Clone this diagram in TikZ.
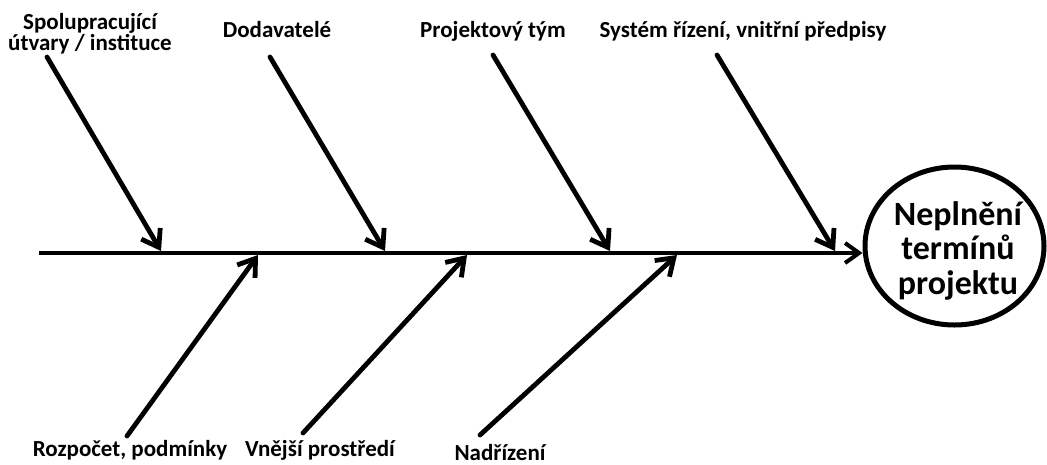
\documentclass[tikz,border=0pt]{standalone}
\usepackage{fontspec}
\setmainfont{Carlito}
\usetikzlibrary{arrows.meta,shapes.geometric}

\begin{document}
\begin{tikzpicture}[x=1pt,y=-1pt,
  bone/.style={line width=4.8pt, line cap=round, line join=round,
    -{Straight Barb[length=16pt,width=22pt]}},
  spine/.style={line width=4pt, line cap=butt, line join=round,
    -{Straight Barb[length=14pt,width=20pt]}},
  cause/.style={font=\bfseries\fontsize{23}{21}\selectfont, anchor=base,
    align=center, inner sep=0pt},
  effect/.style={draw, ellipse, line width=5pt, minimum width=179pt,
    minimum height=158pt, inner sep=0pt},
  efftext/.style={font=\bfseries\fontsize{34}{34.5}\selectfont,
    align=center, anchor=base, inner sep=0pt}]

\useasboundingbox (0,0) rectangle (1047,464);

% effect
\node[effect] (eff) at (954.5,246) {};
\node[efftext] (efftext) at (958,294) {Neplnění\\termínů\\projektu};

% main spine
\coordinate (tail) at (39,253);
\draw[spine] (tail) -- (tail -| eff.west);

% causes above the spine
\node[cause] (c1) at (90,50) {Spolupracující\\útvary / instituce};
\node[cause] (c2) at (277,37) {Dodavatelé};
\node[cause] (c3) at (493,37) {Projektový tým};
\node[cause] (c4) at (743,37) {Systém řízení, vnitřní předpisy};

\coordinate (s1) at (47,57);   \coordinate (e1) at (161,251);
\coordinate (s2) at (270,57);  \coordinate (e2) at (385,251);
\coordinate (s3) at (493,55);  \coordinate (e3) at (610,251);
\coordinate (s4) at (717,55);  \coordinate (e4) at (835,251);

\draw[bone] (s1) -- (e1);
\draw[bone] (s2) -- (e2);
\draw[bone] (s3) -- (e3);
\draw[bone] (s4) -- (e4);

% causes below the spine
\node[cause] (c5) at (130,456) {Rozpočet, podmínky};
\node[cause] (c6) at (320,456) {Vnější prostředí};
\node[cause] (c7) at (500,460) {Nadřízení};

\coordinate (s5) at (127,436); \coordinate (e5) at (258,255);
\coordinate (s6) at (303,433); \coordinate (e6) at (467,255);
\coordinate (s7) at (480,435); \coordinate (e7) at (677,255);

\draw[bone] (s5) -- (e5);
\draw[bone] (s6) -- (e6);
\draw[bone] (s7) -- (e7);
\end{tikzpicture}
\end{document}
